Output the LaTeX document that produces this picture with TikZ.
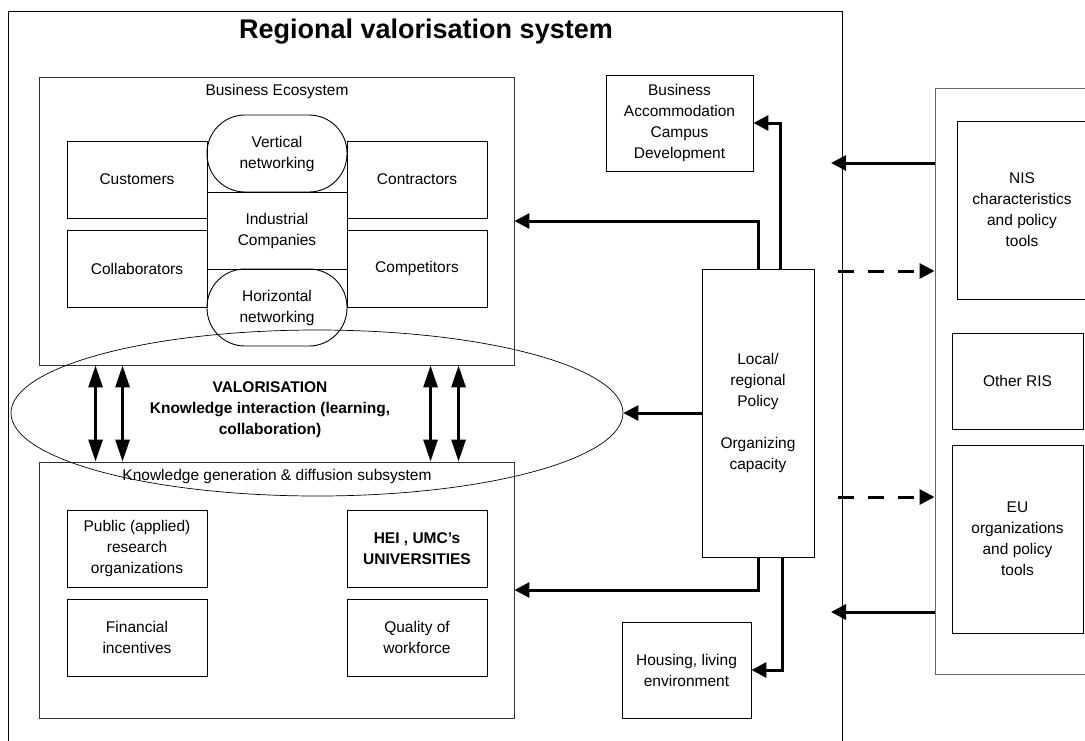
\documentclass[tikz,border=0pt]{standalone}
\usepackage{fontspec}
\setmainfont{Liberation Sans}
\usetikzlibrary{arrows.meta,shapes.geometric}
\begin{document}
\begin{tikzpicture}[x=1pt,y=-1pt,
  every node/.style={font=\fontsize{15.5}{21}\selectfont, align=center, inner sep=0pt},
  frameline/.style={draw=black!80, line width=0.9pt},
  box/.style={draw, line width=0.9pt, minimum width=140pt, minimum height=77pt},
  netbox/.style={box, rounded corners=38pt},
  arr/.style={line width=3pt, -{Triangle[length=15pt,width=15pt]}},
  dblarr/.style={line width=3pt, {Triangle[length=22pt,width=14pt]}-{Triangle[length=22pt,width=14pt]}},
  darr/.style={line width=3pt, dash pattern=on 16pt off 14pt, -{Triangle[length=15pt,width=15pt]}}
]
\useasboundingbox (0,0) rectangle (1085,740);
\fill[white] (0,0) rectangle (1085,740);

% outer frame of the regional system
\draw[line width=0.9pt] (8,760) -- (8,11) -- (842,11) -- (842,760);
\node[font=\fontsize{27}{31}\selectfont\bfseries] (title) at (426,32) {Regional valorisation system};

% Business ecosystem
\node[frameline, minimum width=475pt, minimum height=288pt] (be) at (276.5,221) {};
\node (belab) at (277,91) {Business Ecosystem};
\node[box] (cust) at (137,179.5) {Customers};
\node[box] (contr) at (417,179.5) {Contractors};
\node[box] (coll) at (137,268.5) {Collaborators};
\node[box] (comp) at (417,268.5) {Competitors};
\node[box] (ind) at (277,230.5) {Industrial\\Companies};
\node[netbox] (vert) at (277,153.5) {Vertical\\networking};
\node[netbox] (horiz) at (277,307.5) {Horizontal\\networking};

% Knowledge generation subsystem
\node[frameline, minimum width=475pt, minimum height=256pt] (kg) at (276.5,590) {};
\node (kglab) at (277,476) {Knowledge generation \& diffusion subsystem};
\node[box] (pub) at (137,548.5) {Public (applied)\\research\\organizations};
\node[box, font=\fontsize{15.5}{21}\selectfont\bfseries] (hei) at (417,548.5) {HEI , UMC’s\\UNIVERSITIES};
\node[box] (fin) at (137,637.5) {Financial\\incentives};
\node[box] (qual) at (417,637.5) {Quality of\\workforce};

% Valorisation ellipse
\node[ellipse, draw, line width=0.7pt, minimum width=612pt, minimum height=166pt] (ell) at (317,413) {};
\node[font=\fontsize{15.5}{21}\selectfont\bfseries] (valor) at (270,410) {VALORISATION\\Knowledge interaction (learning,\\collaboration)};

\draw[dblarr] ([xshift=57pt]be.south west) -- ([xshift=57pt]kg.north west);
\draw[dblarr] ([xshift=84pt]be.south west) -- ([xshift=84pt]kg.north west);
\draw[dblarr] ([xshift=392pt]be.south west) -- ([xshift=392pt]kg.north west);
\draw[dblarr] ([xshift=420pt]be.south west) -- ([xshift=420pt]kg.north west);

% Policy and its targets
\node[box, minimum width=147pt, minimum height=96pt] (bac) at (679.5,123) {Business\\Accommodation\\Campus\\Development};
\node[box, minimum width=112pt, minimum height=288pt] (pol) at (758,413) {Local/\\regional\\Policy\\[21pt]Organizing\\capacity};
\node[box, minimum width=129pt, minimum height=96pt] (house) at (686.5,670) {Housing, living\\environment};

\draw[arr] (pol.north) |- (be.east);
\draw[arr] ([xshift=22pt]pol.north) |- (bac.east);
\draw[arr] (pol.west) -- (ell.east);
\draw[arr] (pol.south) |- (kg.east);
\draw[arr] ([xshift=24pt]pol.south) |- (house.east);

% outside systems
\node[draw=black!60, line width=0.9pt, minimum width=165pt, minimum height=586pt] (rout) at (1017.5,381) {};
\node[box, minimum width=130pt, minimum height=178pt] (nis) at (1022,210) {NIS\\characteristics\\and policy\\tools};
\node[box, minimum width=131pt, minimum height=96pt] (ris) at (1017.5,381) {Other RIS};
\node[box, minimum width=131pt, minimum height=188pt] (eu) at (1017.5,539) {EU\\organizations\\and policy\\tools};

\coordinate (f1) at (831,163);
\coordinate (f2) at (831,612);
\coordinate (d1) at (838,271);
\coordinate (d2) at (838,497);
\draw[arr] (rout.west |- f1) -- (f1);
\draw[arr] (rout.west |- f2) -- (f2);
\draw[darr] (d1) -- (rout.west |- d1);
\draw[darr] (d2) -- (rout.west |- d2);
\end{tikzpicture}
\end{document}
